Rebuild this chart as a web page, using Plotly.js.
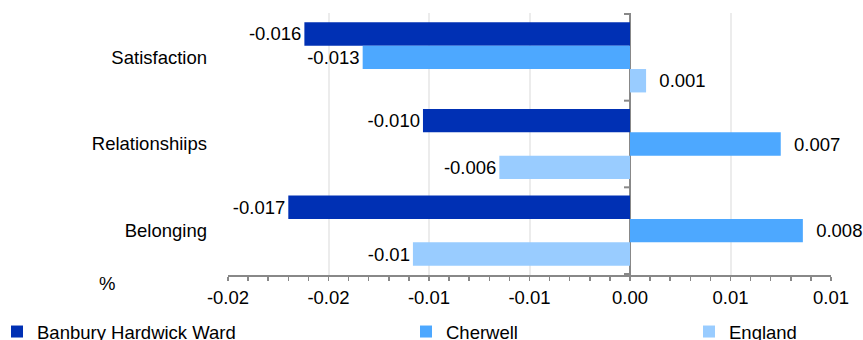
<!DOCTYPE html>
<html>
<head>
<meta charset="utf-8">
<script src="https://cdn.plot.ly/plotly-3.0.1.min.js"></script>
<style>html,body{margin:0;padding:0;background:#fff;}#chart{width:863px;height:340px;}</style>
</head>
<body>
<div id="chart"></div>
<script>
var categories = ["Satisfaction", "Relationshiips", "Belonging"];
var seriesNames = ["Banbury Hardwick Ward", "Cherwell", "England"];
var banbury = [-0.0162, -0.0103, -0.0170];
var cherwell = [-0.0133, 0.0075, 0.0086];
var england = [0.0008, -0.0065, -0.0108];
var banburyLabels = ["-0.016", "-0.010", "-0.017"];
var cherwellLabels = ["-0.013", "\u00a0\u00a00.007", "\u00a0\u00a00.008"];
var englandLabels = ["\u00a0\u00a00.001", "-0.006", "-0.01"];
var xTickVals = [-0.02, -0.015, -0.01, -0.005, 0, 0.005, 0.01];
var xTickText = ["-0.02", "-0.02", "-0.01", "-0.01", "0.00", "0.01", "0.01"];
var colors = ["#0030B4", "#4DA8FF", "#99CCFF"];

var FONT = "Liberation Sans, Arial, sans-serif";
var FS = 18.5;

function mk(vals, labels, i, legendId) {
  return {
    type: "bar", orientation: "h",
    x: vals, y: categories,
    name: seriesNames[i],
    marker: {color: colors[i], line: {width: 0}},
    text: labels, textposition: "outside", cliponaxis: false,
    textfont: {family: FONT, size: FS, color: "#000"},
    legend: legendId,
    hoverinfo: "x+name"
  };
}

var data = [
  mk(banbury, banburyLabels, 0, "legend"),
  mk(cherwell, cherwellLabels, 1, "legend2"),
  mk(england, englandLabels, 2, "legend3")
];

var shapes = [-0.5, 0.5, 1.5, 2.5].map(function (b) {
  return {type: "line", xref: "x", yref: "y", xsizemode: "pixel", xanchor: 0,
          x0: -6, x1: 0, y0: b, y1: b, line: {color: "#888888", width: 2}};
});

var PL = 228, PW = 603, PB = 275, PH = 262;
function px2x(p) { return (p - PL) / PW; }
function px2y(p) { return (PB - p) / PH; }

var legBase = {orientation: "h", yanchor: "middle", y: px2y(332), xanchor: "left",
  font: {family: FONT, size: FS, color: "#000"}, bgcolor: "rgba(0,0,0,0)"};

var layout = {
  width: 863, height: 340,
  margin: {l: 228, r: 32, t: 13, b: 65, pad: 0, autoexpand: false},
  paper_bgcolor: "#fff", plot_bgcolor: "#fff",
  font: {family: FONT, size: FS, color: "#000"},
  barmode: "group", bargap: 0.19, bargroupgap: 0,
  showlegend: true,
  xaxis: {
    range: [-0.02, 0.01], tickvals: xTickVals, ticktext: xTickText,
    showgrid: true, gridcolor: "#ececec", gridwidth: 2,
    zeroline: true, zerolinecolor: "#888888", zerolinewidth: 2,
    showline: true, linecolor: "#888888", linewidth: 1.5,
    ticks: "outside", ticklen: 4, tickcolor: "#888888", tickwidth: 1.5,
    minor: {dtick: 0.001, tick0: 0, ticks: "outside", ticklen: 4, tickcolor: "#888888", tickwidth: 1.5, showgrid: false},
    ticklabelstandoff: 1,
    tickfont: {family: FONT, size: FS, color: "#000"},
    automargin: false,
    fixedrange: true
  },
  yaxis: {
    type: "category", autorange: "reversed",
    showgrid: false, zeroline: false, showline: false, ticks: "",
    ticklabelstandoff: 20,
    tickfont: {family: FONT, size: FS, color: "#000"},
    automargin: false,
    fixedrange: true
  },
  shapes: shapes,
  annotations: [{
    text: "%", xref: "paper", yref: "paper", x: px2x(107), y: px2y(283),
    xanchor: "center", yanchor: "middle", showarrow: false,
    font: {family: FONT, size: FS, color: "#000"}
  }],
  legend: Object.assign({}, legBase, {x: px2x(-3)}),
  legend2: Object.assign({}, legBase, {x: px2x(406)}),
  legend3: Object.assign({}, legBase, {x: px2x(689)})
};

Plotly.newPlot("chart", data, layout, {displayModeBar: false, staticPlot: true});
</script>
</body>
</html>
